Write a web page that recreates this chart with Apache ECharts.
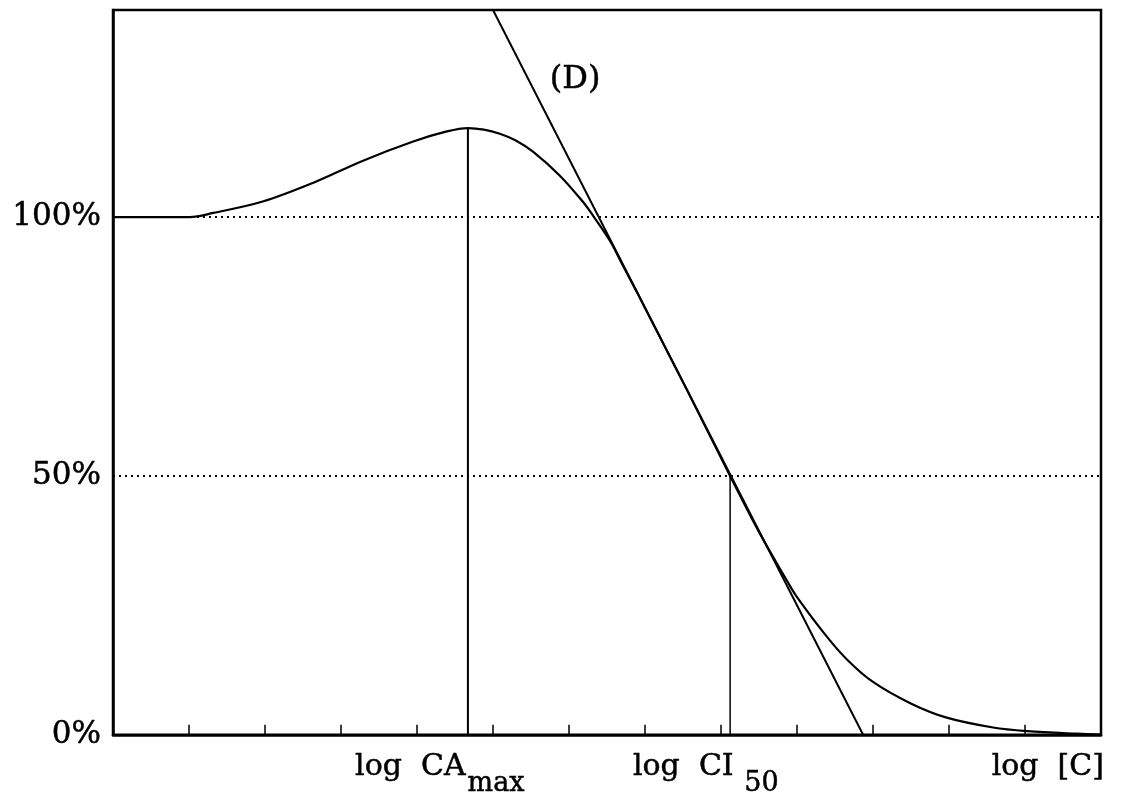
<!DOCTYPE html>
<html>
<head>
<meta charset="utf-8">
<script src="https://cdn.jsdelivr.net/npm/echarts@6/dist/echarts.min.js"></script>
<style>
  html, body { margin: 0; padding: 0; background: #fff; }
  #chart { width: 1121px; height: 798px; }
</style>
</head>
<body>
<div id="chart"></div>
<script>
// response curve: x = log concentration (axis units), y = % response
const curveX = [0, 0.5, 1.01, 1.32, 1.97, 2.63, 3.29, 3.95, 4.38, 4.67, 4.88, 5.09, 5.3, 5.53, 5.88, 6.18, 6.32,
  6.54, 6.7, 6.89, 7.13, 7.55, 8.12, 8.51, 8.87, 9.0, 9.39, 9.66, 10.0, 10.49, 10.97, 11.58, 12.03, 12.68, 13];
const curveY = [100, 100, 100, 100.8, 103.0, 106.6, 110.9, 114.6, 116.5, 117.2, 116.9, 116.1, 114.8, 112.6, 108.0, 103.0, 100.2,
  95.4, 90.9, 85.6, 78.7, 66.7, 50, 38.9, 29.7, 26.6, 19.0, 14.5, 10.2, 6.1, 3.3, 1.4, 0.7, 0.2, 0.05];

// tangent (D) at the inflection
const tangentX = [5.0, 9.87];
const tangentY = [140, 0];

// reference points
const caMax = [4.67, 117.2];
const ci50 = [8.12, 50];
const refLevels = [50, 100];
const dLabelAt = [6.08, 126.6];

// x tick labels
const xTicks = [1, 2, 3, 4, 5, 6, 7, 8, 9, 10, 11, 12];
const xLabelAt = [4.3, 7.8, 12.3];
const xLabelText = ['{m|log  CA}{s|max}', '{m|log  CI}{s| 50}', '{m|log  [C]}'];

const FONT = 'DejaVu Serif';
const INK = '#000';
const heavy = { textBorderColor: INK, textBorderWidth: 0.5 };

const zip = (xs, ys) => xs.map((x, i) => [x, ys[i]]);

const chart = echarts.init(document.getElementById('chart'));
chart.setOption({
  backgroundColor: '#fff',
  animation: false,
  grid: {
    left: 113, right: 20, top: 10, bottom: 61,
    show: true, borderColor: INK, borderWidth: 2.5, containLabel: false
  },
  xAxis: {
    type: 'value', min: 0, max: 13, interval: 1,
    axisLine: { show: true, lineStyle: { color: INK, width: 2.5 } },
    axisTick: { show: true, inside: true, length: 10, customValues: xTicks, lineStyle: { color: INK, width: 1.5 } },
    splitLine: { show: false },
    axisLabel: {
      customValues: xLabelAt,
      margin: 17,
      formatter: v => {
        const i = xLabelAt.indexOf(v);
        return i >= 0 ? xLabelText[i] : '';
      },
      rich: {
        m: Object.assign({ fontFamily: FONT, fontSize: 30, color: INK, lineHeight: 34, verticalAlign: 'top' }, heavy),
        s: Object.assign({ fontFamily: FONT, fontSize: 27, color: INK, lineHeight: 27, padding: [19, 0, 0, 2], verticalAlign: 'top' }, heavy)
      }
    }
  },
  yAxis: {
    type: 'value', min: 0, max: 140, interval: 50,
    axisLine: { show: true, lineStyle: { color: INK, width: 2.5 } },
    axisTick: { show: false },
    splitLine: { show: false },
    axisLabel: Object.assign({
      margin: 12,
      fontFamily: FONT, fontSize: 31, color: INK,
      formatter: v => (v > 100 ? '' : v + '%')
    }, heavy)
  },
  series: [
    {
      type: 'line',
      data: zip(curveX, curveY),
      smooth: 0.35,
      showSymbol: false,
      lineStyle: { color: INK, width: 2.2 },
      z: 5,
      markLine: {
        silent: true,
        symbol: 'none',
        label: { show: false },
        lineStyle: { color: INK, type: [2, 4], width: 2 },
        data: refLevels.map(v => ({ yAxis: v }))
      }
    },
    {
      type: 'line',
      data: zip(tangentX, tangentY),
      showSymbol: false,
      lineStyle: { color: INK, width: 2 },
      markPoint: {
        symbol: 'circle', symbolSize: 0,
        label: Object.assign({ show: true, position: 'inside', formatter: '(D)', fontFamily: FONT, fontSize: 32, color: INK }, heavy),
        data: [{ coord: dLabelAt }]
      }
    },
    {
      type: 'line',
      data: [[caMax[0], 0], caMax],
      showSymbol: false,
      lineStyle: { color: INK, width: 2 }
    },
    {
      type: 'line',
      data: [[ci50[0], 0], ci50],
      showSymbol: false,
      lineStyle: { color: INK, width: 1.5 }
    }
  ]
});
</script>
</body>
</html>
